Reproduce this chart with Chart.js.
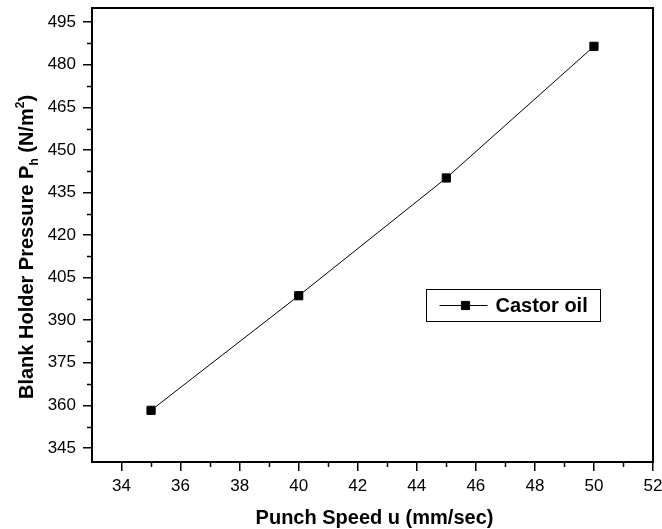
<!DOCTYPE html>
<html><head><meta charset="utf-8">
<script src="https://cdn.jsdelivr.net/npm/chart.js@4.4.1/dist/chart.umd.min.js"></script>
<style>html,body{margin:0;padding:0;background:#fff}canvas{display:block}</style>
</head><body>
<canvas id="c" width="662" height="529"></canvas>
<script>
// ---- data ----
const speeds = [35, 40, 45, 50];
const castorOil = [358.2, 398.6, 440.1, 486.5];
const seriesLabel = 'Castor oil';
const xTickValues = [34, 36, 38, 40, 42, 44, 46, 48, 50, 52];
const yTickValues = [345, 360, 375, 390, 405, 420, 435, 450, 465, 480, 495];
const xTitle = 'Punch Speed u (mm/sec)';
const yTitleParts = [
  {t: 'Blank Holder Pressure P', k: 'n'},
  {t: 'h', k: 'sub'},
  {t: ' (N/m', k: 'n'},
  {t: '2', k: 'sup'},
  {t: ')', k: 'n'}
];

const FONT = "'Liberation Sans', Arial, sans-serif";

function drawRich(ctx, parts, x, y, size) {
  let total = 0;
  const seg = parts.map(p => {
    const s = p.k === 'n' ? size : Math.round(size * 0.6);
    ctx.font = 'bold ' + s + 'px ' + FONT;
    const w = ctx.measureText(p.t).width;
    total += w;
    return {p, s, w};
  });
  let cx = x - total / 2;
  ctx.textAlign = 'left';
  ctx.textBaseline = 'alphabetic';
  seg.forEach(o => {
    ctx.font = 'bold ' + o.s + 'px ' + FONT;
    let dy = 0;
    if (o.p.k === 'sub') dy = 5;
    if (o.p.k === 'sup') dy = -9;
    ctx.fillText(o.p.t, cx, y + dy);
    cx += o.w;
  });
}

const decorPlugin = {
  id: 'decor',
  afterDraw(chart) {
    const {ctx, chartArea: a, scales: {x, y}} = chart;
    ctx.save();
    ctx.strokeStyle = '#000';
    ctx.fillStyle = '#000';
    ctx.lineWidth = 2;
    ctx.strokeRect(a.left, a.top, a.right - a.left, a.bottom - a.top);
    ctx.lineWidth = 1.5;
    ctx.beginPath();
    for (let i = 0; i < xTickValues.length - 1; i++) {
      const px = Math.round(x.getPixelForValue((xTickValues[i] + xTickValues[i + 1]) / 2)) + 0.5;
      ctx.moveTo(px, a.bottom);
      ctx.lineTo(px, a.bottom + 5);
    }
    for (let i = 0; i < yTickValues.length - 1; i++) {
      const py = Math.round(y.getPixelForValue((yTickValues[i] + yTickValues[i + 1]) / 2)) + 0.5;
      ctx.moveTo(a.left, py);
      ctx.lineTo(a.left - 5, py);
    }
    ctx.stroke();

    // x title
    ctx.font = 'bold 20px ' + FONT;
    ctx.textAlign = 'center';
    ctx.textBaseline = 'alphabetic';
    ctx.fillText(xTitle, (a.left + a.right) / 2 + 2, 524);

    // y title
    ctx.save();
    ctx.translate(33, (a.top + a.bottom) / 2 + 12);
    ctx.rotate(-Math.PI / 2);
    drawRich(ctx, yTitleParts, 0, 0, 20);
    ctx.restore();

    // legend
    const w = a.right - a.left, h = a.bottom - a.top;
    const bx = Math.round(a.left + 0.595 * w) + 0.5;
    const by = Math.round(a.top + 0.619 * h) + 0.5;
    ctx.font = 'bold 20px ' + FONT;
    const tw = ctx.measureText(seriesLabel).width;
    const bw = Math.round(69 + tw + 13);
    const bh = 32;
    ctx.lineWidth = 1;
    ctx.strokeRect(bx, by, bw, bh);
    const cy = by + bh / 2;
    ctx.beginPath();
    ctx.moveTo(bx + 13, cy);
    ctx.lineTo(bx + 61, cy);
    ctx.stroke();
    if (Chart.helpers && Chart.helpers.drawPoint) {
      Chart.helpers.drawPoint(ctx, {pointStyle: 'rect', radius: 5.8, rotation: 0, borderWidth: 1}, bx + 39, cy);
    } else {
      ctx.fillRect(bx + 35, cy - 4, 8, 8);
    }
    ctx.fillStyle = '#000';
    ctx.textAlign = 'left';
    ctx.textBaseline = 'middle';
    ctx.fillText(seriesLabel, bx + 69, cy + 1);
    ctx.restore();
  }
};

new Chart(document.getElementById('c'), {
  type: 'line',
  data: {
    datasets: [{
      label: seriesLabel,
      data: speeds.map((s, i) => ({x: s, y: castorOil[i]})),
      borderColor: '#000',
      backgroundColor: '#000',
      borderWidth: 1,
      pointStyle: 'rect',
      pointRadius: 5.8,
      pointHoverRadius: 5.8,
      pointBorderWidth: 1,
      tension: 0
    }]
  },
  options: {
    responsive: false,
    animation: false,
    events: [],
    layout: {padding: {top: 8, right: 9, left: 0, bottom: 0}},
    plugins: {legend: {display: false}, tooltip: {enabled: false}, title: {display: false}},
    scales: {
      x: {
        type: 'linear',
        min: 33, max: 52,
        afterFit(s) { s.height = 67; s.paddingLeft = 0; s.paddingRight = 0; },
        afterBuildTicks(s) { s.ticks = xTickValues.map(v => ({value: v})); },
        grid: {display: true, drawOnChartArea: false, drawTicks: true, tickLength: 9, color: '#000', lineWidth: 1.5},
        border: {display: true, color: '#000', width: 2},
        ticks: {color: '#000', font: {family: FONT, size: 17}, padding: 5, maxRotation: 0, autoSkip: false}
      },
      y: {
        type: 'linear',
        min: 340, max: 500,
        afterFit(s) { s.width = 92; s.paddingTop = 0; s.paddingBottom = 0; },
        afterBuildTicks(s) { s.ticks = yTickValues.map(v => ({value: v})); },
        grid: {display: true, drawOnChartArea: false, drawTicks: true, tickLength: 9, color: '#000', lineWidth: 1.5},
        border: {display: true, color: '#000', width: 2},
        ticks: {color: '#000', font: {family: FONT, size: 17}, padding: 7, autoSkip: false}
      }
    }
  },
  plugins: [decorPlugin]
});
</script>
</body></html>
